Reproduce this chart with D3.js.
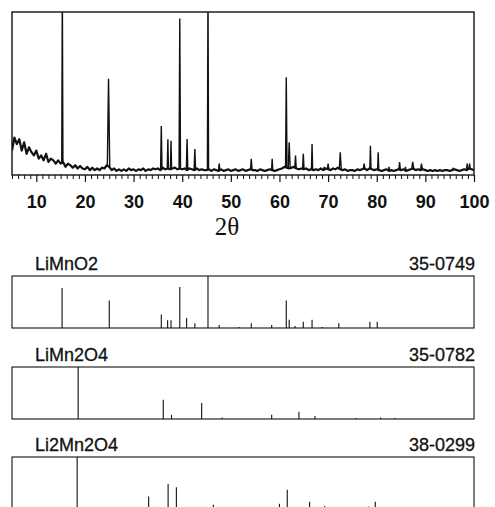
<!DOCTYPE html>
<html>
<head>
<meta charset="utf-8">
<script src="https://cdn.jsdelivr.net/npm/d3@7/dist/d3.min.js"></script>
<style>
  html, body { margin: 0; padding: 0; background: #fff; }
  svg { display: block; }
  .tick-label { font-family: "Liberation Sans", Arial, sans-serif; font-weight: bold; font-size: 18px; fill: #111; }
  .axis-title { font-family: "Liberation Serif", "Times New Roman", serif; font-size: 25px; fill: #111; }
  .phase-label { font-family: "Liberation Sans", Arial, sans-serif; font-size: 18px; fill: #111; stroke: #111; stroke-width: 0.3px; }
</style>
</head>
<body>
<div id="chart"></div>
<script>
// 2-theta range and axis labels
const thetaDomain = [5, 100];
const majorTicks = [10, 20, 30, 40, 50, 60, 70, 80, 90, 100];
const minorStep = 1.25;

// measured pattern: noisy background sampled every 0.5 deg from 5 deg
const bgStart = 5;
const bgStep = 0.5;
const backgroundCounts = [
  15, 23, 19, 22, 15, 20, 13, 17, 14, 12,
  15, 10, 12, 9, 13, 8, 10, 9, 7, 9,
  7, 8, 5, 7, 6, 4.5, 6, 4, 5.5, 4,
  3.5, 5, 3, 4.5, 3, 4, 3, 4.5, 4, 6,
  5, 3, 4, 2.5, 3.5, 2.5, 3.5, 2.5, 4, 3,
  3.5, 2.5, 3.5, 3, 4, 2.5, 3.5, 3, 4, 3.5,
  4, 3, 4.5, 3.5, 4, 3.5, 4, 4.5, 3.5, 4,
  3.5, 4, 3, 4, 3.5, 3, 4, 3, 3.5, 3,
  3, 3.5, 2.5, 3.5, 3, 2.5, 3.5, 2.5, 3, 3.5,
  2.5, 3, 3.5, 2.5, 3, 3.5, 2.5, 3, 3.5, 3,
  3, 2.5, 3.5, 3, 2.5, 3, 3.5, 3, 2.5, 3,
  3.5, 4, 5, 4.5, 4, 4.5, 5, 4, 3.5, 4,
  3.5, 4, 3, 3.5, 3, 3.5, 3, 4, 3, 4,
  3.5, 3, 4, 3.5, 4.5, 3.5, 3, 3.5, 2.5, 3,
  3, 2.5, 3.5, 3, 3.5, 4, 3, 4, 3.5, 3,
  3.5, 3, 2.5, 3, 3.5, 2.5, 3, 2.5, 3, 3.5,
  3, 3.5, 2.5, 3, 3.5, 4, 3, 3.5, 3, 3.5,
  3, 2.5, 3, 2.5, 3, 2.5, 3, 2.5, 3, 3,
  2.5, 3, 3.5, 3, 2.5, 3, 3.5, 3, 4, 3.5,
  3
];

// measured peaks: [2theta, height, half width]
const measuredPeaks = [
  [15.35, 115, 0.12], [24.85, 59, 0.25], [35.7, 30, 0.15], [37.05, 22, 0.12],
  [37.7, 21, 0.12], [39.5, 96, 0.15], [41.0, 22, 0.15], [42.6, 16, 0.15],
  [45.3, 115, 0.12], [47.6, 7, 0.15], [54.2, 10, 0.15], [58.5, 10, 0.12],
  [61.4, 60, 0.15], [62.0, 20, 0.2], [63.3, 12, 0.15], [64.9, 13, 0.15],
  [66.7, 19, 0.12], [69.2, 5, 0.15], [70.0, 7, 0.15], [72.5, 14, 0.2],
  [77.4, 7, 0.15], [78.7, 18, 0.12], [80.3, 14, 0.12], [82.5, 5, 0.15],
  [84.7, 8, 0.15], [85.9, 5, 0.15], [87.4, 8, 0.2], [89.2, 7, 0.2],
  [95.7, 4, 0.2], [98.6, 7, 0.15], [99.1, 7, 0.12]
];

// reference cards
const phaseNames = [`LiMnO2`, `LiMn2O4`, `Li2Mn2O4`];
const cardNumbers = [`35-0749`, `35-0782`, `38-0299`];
const limno2Lines = [
  [15.3, 77], [25.0, 53], [35.7, 26], [37.0, 15], [37.7, 15], [39.5, 79],
  [40.9, 19], [42.6, 9], [45.3, 100], [47.6, 6], [51.7, 2], [54.2, 9],
  [58.4, 6], [61.4, 53], [62.0, 16], [63.2, 4], [64.9, 12], [66.7, 16],
  [68.8, 2], [72.2, 9], [78.6, 12], [80.1, 12]
];
const limn2o4Lines = [
  [18.6, 100], [36.1, 37], [37.8, 8], [44.0, 31], [48.2, 3], [58.4, 8],
  [64.0, 14], [67.3, 6], [75.7, 2], [80.8, 3], [83.7, 2]
];
const li2mn2o4Lines = [
  [18.4, 100], [33.1, 24], [37.1, 48], [38.8, 42], [46.4, 8], [52.0, 4],
  [60.0, 10], [61.6, 37], [66.2, 14], [69.3, 6], [78.4, 5], [79.7, 14]
];
const cardLines = [limno2Lines, limn2o4Lines, li2mn2o4Lines];

const width = 495;
const height = 507;
const plot = { left: 12, right: 474, top: 12, bottom: 175 };
const panelTops = [276, 367, 457];
const panelHeight = 52;

const svg = d3.select(`#chart`).append(`svg`)
  .attr(`width`, width)
  .attr(`height`, height);

const x = d3.scaleLinear().domain(thetaDomain).range([plot.left, plot.right]);
const y = d3.scaleLinear().domain([0, 100]).range([plot.bottom, plot.top]);

svg.append(`clipPath`).attr(`id`, `plot-clip`)
  .append(`rect`)
  .attr(`x`, plot.left).attr(`y`, plot.top)
  .attr(`width`, plot.right - plot.left).attr(`height`, plot.bottom - plot.top);

const trace = svg.append(`g`).attr(`clip-path`, `url(#plot-clip)`);

const background = backgroundCounts.map((v, i) => [bgStart + i * bgStep, v]);
const line = d3.line().x((d) => x(d[0])).y((d) => y(d[1]));

trace.append(`path`)
  .datum(background)
  .attr(`d`, line)
  .attr(`fill`, `none`)
  .attr(`stroke`, `#111`)
  .attr(`stroke-width`, 2.2)
  .attr(`stroke-linejoin`, `round`);

// base of each peak = nearest background sample
const baseAt = (pos) => backgroundCounts[Math.round((pos - bgStart) / bgStep)];

trace.selectAll(`path.peak`)
  .data(measuredPeaks)
  .enter().append(`path`)
    .attr(`class`, `peak`)
    .attr(`d`, (d) => line([[d[0] - d[2], baseAt(d[0])], [d[0], d[1]], [d[0] + d[2], baseAt(d[0])]]))
    .attr(`fill`, `none`)
    .attr(`stroke`, `#111`)
    .attr(`stroke-width`, 1.4)
    .attr(`stroke-linejoin`, `miter`);

svg.append(`rect`)
  .attr(`x`, plot.left).attr(`y`, plot.top)
  .attr(`width`, plot.right - plot.left).attr(`height`, plot.bottom - plot.top)
  .attr(`fill`, `none`)
  .attr(`stroke`, `#111`)
  .attr(`stroke-width`, 1.4);

// bottom axis
const minorTicks = d3.range(thetaDomain[0], thetaDomain[1] + 0.01, minorStep)
  .filter((t) => !majorTicks.some((m) => Math.abs(m - t) < 0.01));

const axis = svg.append(`g`).attr(`transform`, `translate(0,${plot.bottom})`);
axis.call(d3.axisBottom(x).tickValues(majorTicks).tickSize(7).tickPadding(13).tickFormat(d3.format(`d`)));
axis.select(`.domain`).remove();
axis.selectAll(`.tick line`).attr(`stroke`, `#111`).attr(`stroke-width`, 1.2);
axis.selectAll(`.tick text`).attr(`class`, `tick-label`).attr(`font-size`, null).attr(`font-family`, null);

svg.append(`g`).attr(`transform`, `translate(0,${plot.bottom})`)
  .call(d3.axisBottom(x).tickValues(minorTicks).tickSize(4).tickFormat(``))
  .call((g) => g.select(`.domain`).remove())
  .selectAll(`.tick line`).attr(`stroke`, `#111`).attr(`stroke-width`, 1);

svg.append(`text`)
  .attr(`class`, `axis-title`)
  .attr(`x`, 227)
  .attr(`y`, 235)
  .attr(`text-anchor`, `middle`)
  .text(`2θ`);

// reference card panels
panelTops.forEach((top, i) => {
  const py = d3.scaleLinear().domain([0, 100]).range([top + panelHeight, top]);
  const g = svg.append(`g`).attr(`class`, `card`);

  g.append(`text`)
    .attr(`class`, `phase-label`)
    .attr(`x`, 35)
    .attr(`y`, top - 6)
    .text(phaseNames[i]);

  g.append(`text`)
    .attr(`class`, `phase-label`)
    .attr(`x`, plot.right + 1)
    .attr(`y`, top - 6)
    .attr(`text-anchor`, `end`)
    .text(cardNumbers[i]);

  g.selectAll(`line.stick`)
    .data(cardLines[i])
    .enter().append(`line`)
      .attr(`class`, `stick`)
      .attr(`x1`, (d) => x(d[0]))
      .attr(`x2`, (d) => x(d[0]))
      .attr(`y1`, py(0))
      .attr(`y2`, (d) => py(d[1]))
      .attr(`stroke`, `#111`)
      .attr(`stroke-width`, 1.1);

  g.append(`rect`)
    .attr(`x`, plot.left).attr(`y`, top)
    .attr(`width`, plot.right - plot.left).attr(`height`, panelHeight)
    .attr(`fill`, `none`)
    .attr(`stroke`, `#111`)
    .attr(`stroke-width`, 1.1);
});
</script>
</body>
</html>
